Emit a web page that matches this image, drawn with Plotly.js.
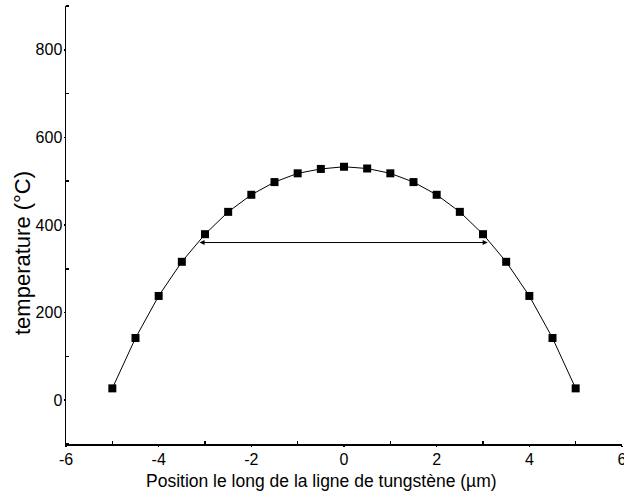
<!DOCTYPE html>
<html>
<head>
<meta charset="utf-8">
<script src="https://cdn.plot.ly/plotly-3.0.1.min.js"></script>
<style>html,body{margin:0;padding:0;background:#fff;}#chart{width:624px;height:494px;}</style>
</head>
<body>
<div id="chart"></div>
<script>
const positions = [-5, -4.5, -4, -3.5, -3, -2.5, -2, -1.5, -1, -0.5, 0, 0.5, 1, 1.5, 2, 2.5, 3, 3.5, 4, 4.5, 5];
const temperatures = [27, 142, 238, 316, 379, 430, 469, 498, 518, 528, 533, 529, 518, 498, 469, 430, 379, 316, 238, 142, 27];
const arrowStart = [-3.15, 360];
const arrowEnd = [3.1, 360];
const xTickVals = [-6, -4, -2, 0, 2, 4, 6];
const xTickText = ['-6', '-4', '-2', '0', '2', '4', '6'];
const yTickVals = [0, 200, 400, 600, 800];
const yTickText = ['0', '200', '400', '600', '800'];
const xTitle = 'Position le long de la ligne de tungstène (µm)';
const yTitle = 'temperature (°C)';

const font = {family: 'Arial, "Liberation Sans", sans-serif', color: '#000'};

const trace = {
  x: positions, y: temperatures, type: 'scatter', mode: 'lines+markers',
  line: {color: '#000', width: 1},
  marker: {symbol: 'square', size: 8, color: '#000'},
  hoverinfo: 'none'
};

const layout = {
  width: 624, height: 494,
  margin: {l: 66, r: 2, t: 6, b: 50},
  paper_bgcolor: '#fff', plot_bgcolor: '#fff',
  showlegend: false,
  font: Object.assign({size: 16}, font),
  xaxis: {
    range: [-6, 6], tickmode: 'array', tickvals: xTickVals, ticktext: xTickText,
    showgrid: false, zeroline: false, showline: true, linecolor: '#000', linewidth: 1.5,
    ticks: 'outside', ticklen: 1, tickcolor: '#000', tickwidth: 1.5,
    ticklabeloverflow: 'allow', ticklabelstandoff: -1,
    minor: {tickmode: 'linear', tick0: -5, dtick: 2, ticks: 'inside', ticklen: 3, tickcolor: '#000', tickwidth: 1.5, showgrid: false},
    tickfont: Object.assign({size: 16}, font)
  },
  yaxis: {
    range: [-100, 900], tickmode: 'array', tickvals: yTickVals, ticktext: yTickText,
    showgrid: false, zeroline: false, showline: true, linecolor: '#000', linewidth: 1.5,
    ticks: 'outside', ticklen: 1, tickcolor: '#000', tickwidth: 1.5,
    ticklabeloverflow: 'allow', ticklabelstandoff: -2,
    minor: {tickmode: 'linear', tick0: 100, dtick: 200, ticks: 'inside', ticklen: 3, tickcolor: '#000', tickwidth: 1.5, showgrid: false},
    tickfont: Object.assign({size: 16}, font)
  },
  annotations: [{
    x: arrowEnd[0], y: arrowEnd[1], ax: arrowStart[0], ay: arrowStart[1],
    xref: 'x', yref: 'y', axref: 'x', ayref: 'y',
    text: '', showarrow: true, arrowhead: 2, startarrowhead: 2, arrowside: 'end+start',
    arrowsize: 1, arrowwidth: 1, arrowcolor: '#000'
  }, {
    text: xTitle, showarrow: false, xref: 'paper', yref: 'paper',
    x: (321 - 66) / 556, y: -(481 - 444) / 438, xanchor: 'center', yanchor: 'middle',
    font: Object.assign({size: 17.5}, font)
  }, {
    text: yTitle, showarrow: false, xref: 'paper', yref: 'paper', textangle: -90,
    x: -(66 - 22) / 556, y: (444 - 253) / 438, xanchor: 'center', yanchor: 'middle',
    font: Object.assign({size: 22}, font)
  }]
};

Plotly.newPlot('chart', [trace], layout, {staticPlot: true, displayModeBar: false});
</script>
</body>
</html>
